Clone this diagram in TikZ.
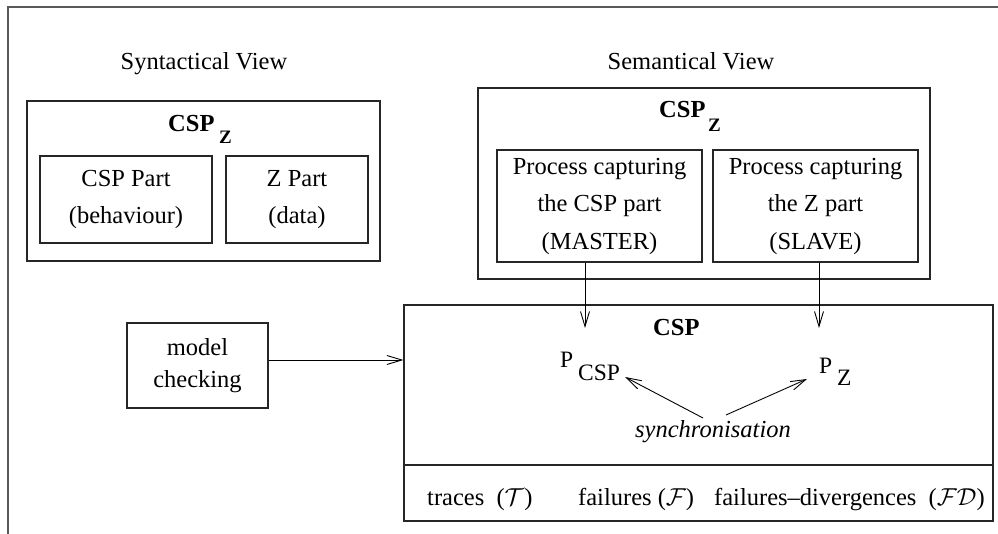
\documentclass[tikz,border=0pt]{standalone}
\usepackage{fix-cm}
\usepackage{fontspec}
\setmainfont{Liberation Serif}
\usetikzlibrary{arrows.meta}

\tikzset{
  box/.style={draw=black!85, line width=1.1pt, inner sep=0pt, align=center},
  txt/.style={inner sep=0pt, font=\fontsize{24.5}{37.5}\selectfont},
  sub/.style={inner sep=0pt, font=\fontsize{19}{19}\selectfont},
  proc/.style={inner sep=0pt, font=\fontsize{23.5}{24}\selectfont},
  arr/.style={line width=0.9pt, -{Straight Barb[length=15pt,width=9pt,line width=0.9pt]}},
  frame/.style={draw=black!65, line width=1.6pt}
}

\begin{document}
\begin{tikzpicture}[x=1pt, y=-1pt]
\useasboundingbox (0,0) rectangle (998,534);

% outer frame (top and left edges only)
\draw[frame] (8,534) -- (8,7) -- (998,7);

% headings
\node[txt, anchor=base] (synHead) at (204,70) {Syntactical View};
\node[txt, anchor=base] (semHead) at (691,70) {Semantical View};

% ---- syntactical view ----
\node[box, minimum width=353, minimum height=160] (syn) at (203.5,181) {};
\node[txt, anchor=base west, font=\bfseries\fontsize{24.5}{30}\selectfont] (synL) at (168,132) {CSP};
\node[sub, anchor=base west, font=\bfseries\fontsize{19}{19}\selectfont] (synZ) at (219,144) {Z};
\node[box, txt, minimum width=172, minimum height=87] (cspPart) at (126,199.5) {CSP Part\\(behaviour)};
\node[box, txt, minimum width=142, minimum height=87] (zPart) at (297,199.5) {Z Part\\(data)};

% ---- semantical view ----
\node[box, minimum width=452, minimum height=191] (sem) at (704,183.5) {};
\node[txt, anchor=base west, font=\bfseries\fontsize{24.5}{30}\selectfont] (semL) at (659,118) {CSP};
\node[sub, anchor=base west, font=\bfseries\fontsize{19}{19}\selectfont] (semZ) at (708,132) {Z};
\node[box, txt, minimum width=205, minimum height=112] (master) at (599.5,206) {Process capturing\\the CSP part\\(MASTER)};
\node[box, txt, minimum width=205, minimum height=112] (slave) at (815.5,206) {Process capturing\\the Z part\\(SLAVE)};

% ---- model checking ----
\node[box, txt, minimum width=141, minimum height=85, font=\fontsize{24.5}{32}\selectfont] (mc) at (197.5,365.5) {model\\checking};

% ---- CSP model ----
\node[box, minimum width=589, minimum height=216] (csp) at (698.5,413) {};
\coordinate (divL) at (404,465);
\coordinate (divR) at (993,465);
\draw[line width=1.1pt, black!85] (divL) -- (divR);
\node[txt, anchor=base west, font=\bfseries\fontsize{24.5}{30}\selectfont] (cspL) at (653,335) {CSP};

\node[proc, anchor=base west] (pcsp) at (560,367) {P};
\node[proc, anchor=base west] (pcspS) at (578,380) {CSP};
\node[proc, anchor=base west] (pz) at (819,373) {P};
\node[proc, anchor=base west] (pzS) at (837,385) {Z};

\node[txt, anchor=base, font=\itshape\fontsize{24.5}{30}\selectfont] (sync) at (713,437) {synchronisation};

% semantic models
\node[txt, anchor=base west] (tr) at (427,505) {traces\ \ ($\mathcal{T}$)};
\node[txt, anchor=base west] (fl) at (578,505) {failures ($\mathcal{F}$)};
\node[txt, anchor=base west] (fd) at (714,505) {failures--divergences\ \ ($\mathcal{F}\mathcal{D}$)};

% ---- connectors ----
\coordinate (mIn) at (585,328);
\coordinate (sIn) at (819,328);
\draw[arr] (master.south -| mIn) -- (mIn);
\draw[arr] (slave.south -| sIn) -- (sIn);
\draw[arr] ([yshift=5.5pt]mc.east) -- ([yshift=5.5pt]mc.east -| csp.west);

\coordinate (syncA) at (703,418);
\coordinate (syncB) at (726,415);
\coordinate (pcspIn) at (625,377);
\coordinate (pzIn) at (807,379);
\draw[arr] (syncA) -- (pcspIn);
\draw[arr] (syncB) -- (pzIn);
\end{tikzpicture}
\end{document}
